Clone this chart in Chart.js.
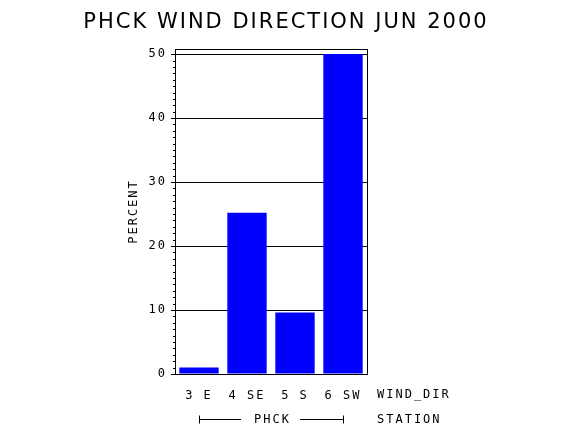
<!DOCTYPE html>
<html>
<head>
<meta charset="utf-8">
<script src="https://cdn.jsdelivr.net/npm/chart.js@4/dist/chart.umd.min.js"></script>
<style>
  html, body { margin: 0; padding: 0; background: #fff; }
</style>
</head>
<body>
<canvas id="chart" width="570" height="430"></canvas>
<script>
// values
const titleText = 'PHCK WIND DIRECTION JUN 2000';
const windDirs = ['3 E', '4 SE', '5 S', '6 SW'];
const percents = [1.0, 25.2, 9.6, 50.0];
const yTicks = [0, 10, 20, 30, 40, 50];
const yTitle = 'PERCENT';
const stationName = 'PHCK';
const xVarName = 'WIND_DIR';
const groupVarName = 'STATION';

const monoFont = '"DejaVu Sans Mono", monospace';
const spacing = '2px';

// the old plotter font is wide, so spread the letters a bit
const letterSpacing = {
  id: 'letterSpacing',
  beforeInit(chart) { chart.ctx.letterSpacing = spacing; },
  beforeUpdate(chart) { chart.ctx.letterSpacing = spacing; },
  beforeDraw(chart) { chart.ctx.letterSpacing = spacing; }
};

// title (centred on the whole page, the layout padding would squeeze the built-in one),
// frame, minor ticks, variable names and the station bracket
const extras = {
  id: 'extras',
  afterDraw(chart) {
    const ctx = chart.ctx;
    const a = chart.chartArea;
    const x = chart.scales.x;
    const y = chart.scales.y;
    ctx.save();
    ctx.letterSpacing = spacing;
    ctx.fillStyle = '#000';
    ctx.font = '21px "DejaVu Sans", sans-serif';
    ctx.textAlign = 'center';
    ctx.textBaseline = 'alphabetic';
    ctx.fillText(titleText, chart.width / 2 + 1, 28);

    ctx.strokeStyle = '#000';
    ctx.lineWidth = 1;
    ctx.strokeRect(a.left + 0.5, a.top + 0.5, a.right - a.left, a.bottom - a.top);

    ctx.beginPath();
    for (let v = 1; v < 50; v++) {
      if (v % 10 === 0) continue;
      const py = Math.round(y.getPixelForValue(v)) + 0.5;
      ctx.moveTo(a.left - 2, py);
      ctx.lineTo(a.left + 0.5, py);
    }
    ctx.stroke();

    ctx.font = '12px ' + monoFont;
    ctx.textBaseline = 'top';
    ctx.textAlign = 'left';
    const row1 = a.bottom + 15;
    const row2 = a.bottom + 40;
    ctx.fillText(xVarName, a.right + 10, row1);
    ctx.fillText(groupVarName, a.right + 10, row2);

    const x0 = Math.round(x.getPixelForValue(0)) + 0.5;
    const x1 = Math.round(x.getPixelForValue(windDirs.length - 1)) + 0.5;
    const mid = (x0 + x1) / 2;
    const tw = ctx.measureText(stationName).width;
    ctx.textAlign = 'center';
    ctx.fillText(stationName, mid + 1, row2);
    const ly = a.bottom + 45.5;
    ctx.beginPath();
    ctx.moveTo(x0, ly - 4); ctx.lineTo(x0, ly + 4);
    ctx.moveTo(x0, ly); ctx.lineTo(mid - tw / 2 - 12, ly);
    ctx.moveTo(mid + tw / 2 + 10, ly); ctx.lineTo(x1, ly);
    ctx.moveTo(x1, ly - 4); ctx.lineTo(x1, ly + 4);
    ctx.stroke();
    ctx.restore();
  }
};

new Chart(document.getElementById('chart'), {
  type: 'bar',
  data: {
    labels: windDirs,
    datasets: [{
      data: percents,
      backgroundColor: '#0000ff',
      borderWidth: 0,
      barPercentage: 0.82,
      categoryPercentage: 1.0
    }]
  },
  options: {
    responsive: false,
    animation: false,
    layout: { padding: { left: 120, right: 203, top: 49, bottom: 0 } },
    plugins: {
      legend: { display: false },
      tooltip: { enabled: false },
      title: { display: false }
    },
    scales: {
      x: {
        type: 'category',
        grid: { display: false, drawTicks: false },
        border: { display: false },
        ticks: {
          color: '#000',
          font: { family: monoFont, size: 12 },
          padding: 15,
          maxRotation: 0,
          autoSkip: false
        },
        afterFit(scale) { scale.height = 56; }
      },
      y: {
        min: 0,
        max: 50.8,
        z: 1,
        afterBuildTicks(scale) { scale.ticks = yTicks.map(v => ({ value: v })); },
        afterFit(scale) { scale.width = 55; },
        grid: { color: '#000', lineWidth: 1, tickLength: 4 },
        border: { display: true, color: '#000' },
        ticks: {
          color: '#000',
          font: { family: monoFont, size: 12 },
          padding: 4
        },
        title: {
          display: true,
          text: yTitle,
          color: '#000',
          font: { family: monoFont, size: 12 },
          padding: { top: 7, bottom: 0 }
        }
      }
    }
  },
  plugins: [letterSpacing, extras]
});
</script>
</body>
</html>
